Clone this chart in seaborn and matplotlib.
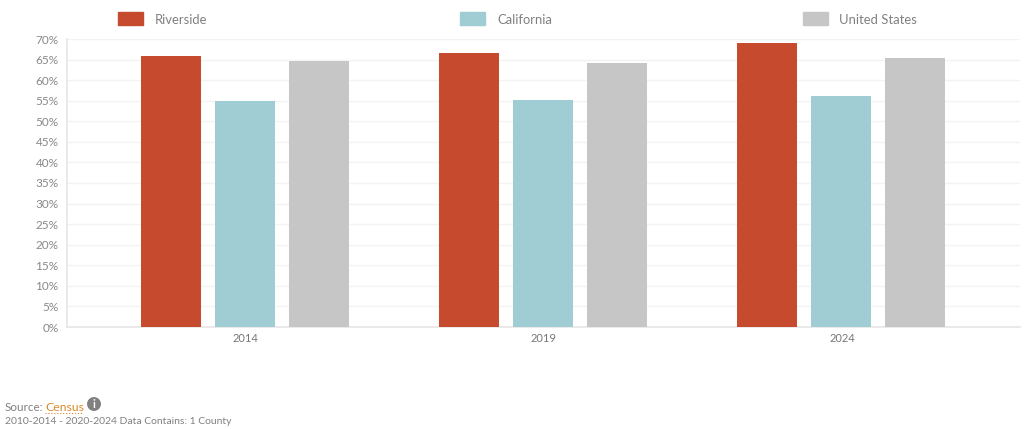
import matplotlib
matplotlib.use("Agg")
import matplotlib.pyplot as plt
from matplotlib.patches import Ellipse
from matplotlib.transforms import ScaledTranslation
import pandas as pd
import seaborn as sns

years = ["2014", "2019", "2024"]
riverside = [65.9, 66.6, 69.1]
california = [55.0, 55.2, 56.2]
united_states = [64.6, 64.2, 65.4]
series_names = ["Riverside", "California", "United States"]
colors = ["#C64A2E", "#A0CDD3", "#C6C6C6"]
y_ticks = list(range(0, 75, 5))

W, H = 1024, 429
sns.set_theme(style="white")
plt.rcParams["font.family"] = ["Lato", "DejaVu Sans"]

df = pd.DataFrame({
    "year": years * 3,
    "series": [n for n in series_names for _ in years],
    "value": riverside + california + united_states,
})

fig = plt.figure(figsize=(W / 100, H / 100), dpi=100)
ax = fig.add_axes([67 / W, 1 - 327 / H, (1020 - 67) / W, (327 - 39) / H])
sns.barplot(data=df, x="year", y="value", hue="series", hue_order=series_names,
            palette=colors, width=0.745, gap=0.19, saturation=1, ax=ax, legend=False,
            zorder=3, linewidth=0)

ax.set_xlim(-0.597, 2.601)
ax.set_ylim(0, 70)
ax.set_yticks(y_ticks)
ax.set_yticklabels([f"{v}%" for v in y_ticks])
ax.set_xlabel("")
ax.set_ylabel("")
ax.grid(axis="y", color="#F3F3F3", lw=1, zorder=0)
ax.set_axisbelow(True)
for s in ["top", "right"]:
    ax.spines[s].set_visible(False)
for s in ["left", "bottom"]:
    ax.spines[s].set_color("#E6E6E6")
    ax.spines[s].set_linewidth(1.2)
ax.tick_params(axis="y", length=5, width=1, color="#E6E6E6", labelsize=8.5, labelcolor="#888888", pad=1)
ax.tick_params(axis="x", length=0, labelsize=8, labelcolor="#777777", pad=4.5)
for lab in ax.get_xticklabels():
    lab.set_transform(lab.get_transform() + ScaledTranslation(1 / 100, 0, fig.dpi_scale_trans))

# legend
swatch_x = [118, 460, 803]
text_x = [155, 497, 839]
for name, c, sx, tx in zip(series_names, colors, swatch_x, text_x):
    fig.patches.append(plt.Rectangle((sx / W, 1 - 25 / H), 25 / W, 13 / H,
                                     transform=fig.transFigure, color=c))
    fig.text(tx / W, 1 - 20.5 / H, name, fontsize=9.4, color="#808080", va="center")

fig.text(5 / W, 1 - 407.5 / H, "Source:", fontsize=8.4, color="#808080", va="center")
fig.text(45 / W, 1 - 407.5 / H, "Census", fontsize=8.8, color="#D98A2B", va="center")
fig.add_artist(Ellipse((94 / W, 1 - 404 / H), 12.5 / W, 12.5 / H, color="#808080",
                       transform=fig.transFigure))
fig.text(94 / W, 1 - 404 / H, "i", fontsize=8, fontweight="bold", color="white",
         ha="center", va="center")
fig.text(5 / W, 1 - 421 / H, "2010-2014 - 2020-2024 Data Contains: 1 County", fontsize=7.45,
         color="#808080", va="center")
fig.add_artist(plt.Line2D([45 / W, 83 / W], [1 - 413 / H] * 2, color="#D98A2B", lw=0.8, ls=":"))

fig.savefig("out.png", dpi=100)
